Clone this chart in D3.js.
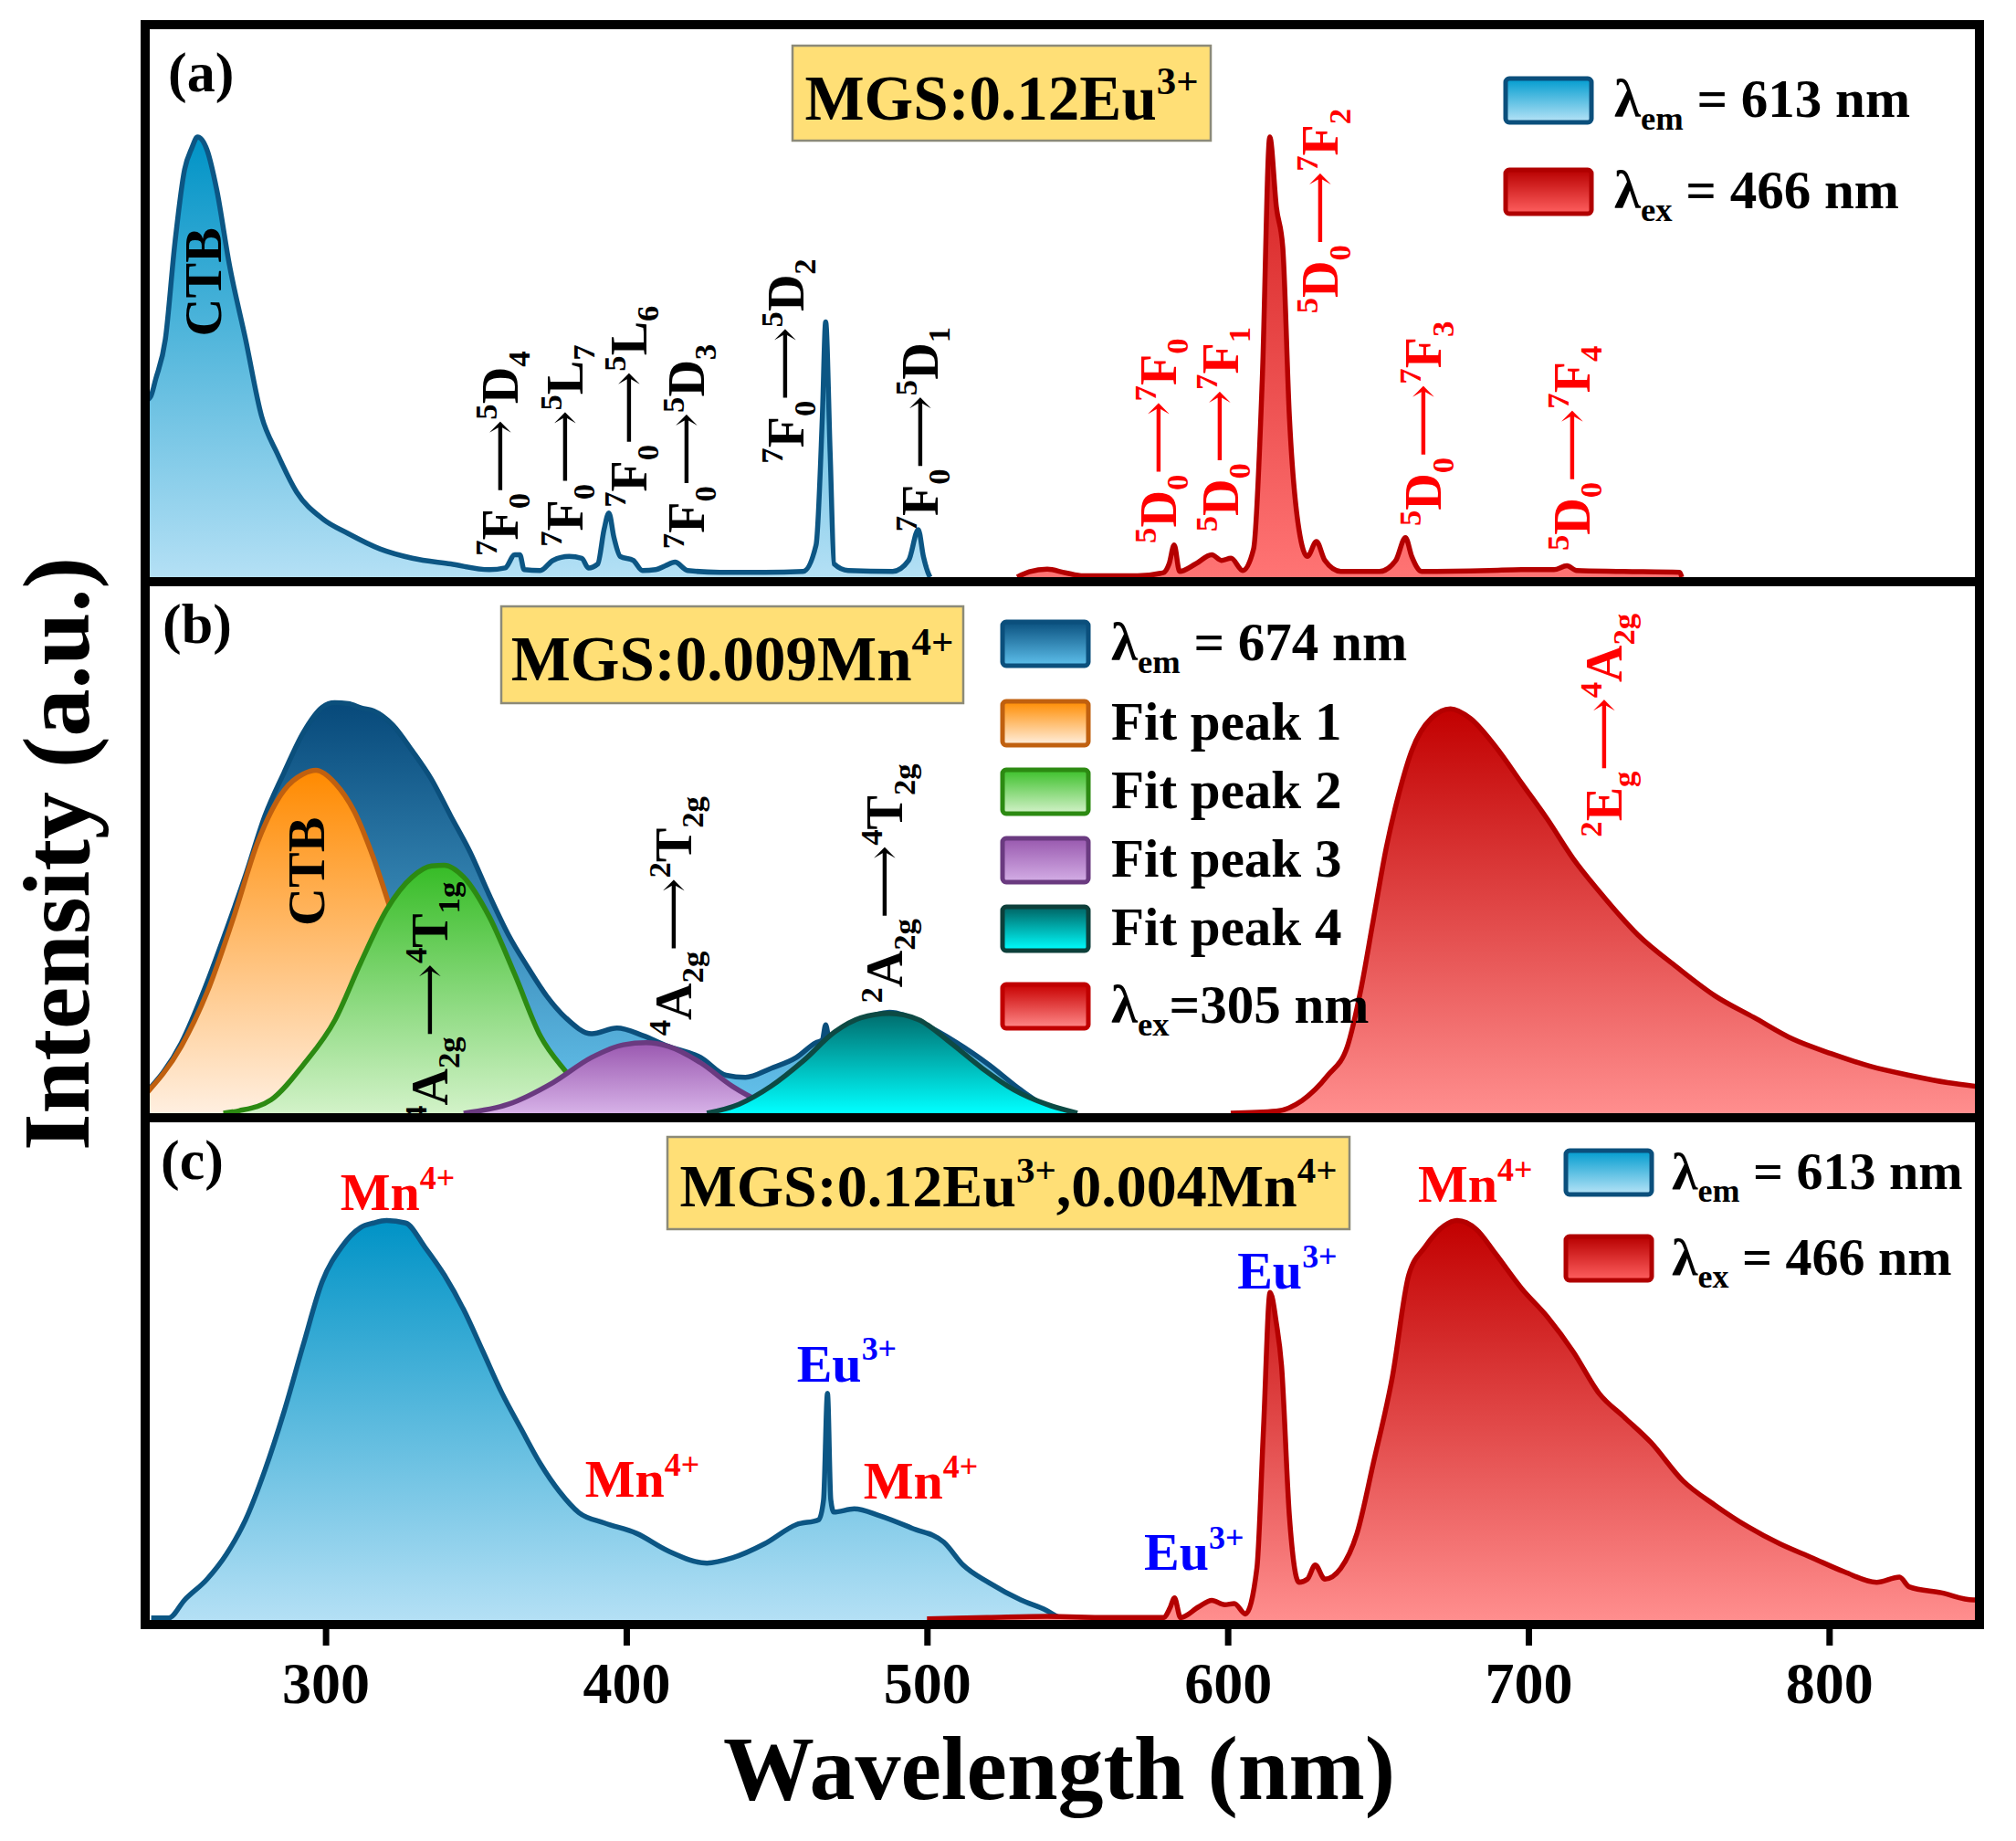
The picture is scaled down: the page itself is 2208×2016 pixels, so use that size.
<!DOCTYPE html>
<html>
<head>
<meta charset="utf-8">
<script src="https://cdn.jsdelivr.net/npm/d3@7"></script>
<style>
  body { margin: 0; background: #fff; }
  text { font-family: "Liberation Serif", "Times New Roman", serif; font-weight: bold; white-space: pre; }
</style>
</head>
<body>
<div id="chart"></div>
<script>
// ---- data (wavelength nm, intensity normalised to ~100) ----

// (a) MGS:0.12Eu3+
const aExcitation = [[240,40],[241.8,41],[243.5,45],[246.7,54],[249.9,76],[253.1,92.6],[255.5,97.5],[257.4,100],[260.6,97],[263.8,88],[268,71],[273.4,54],[278.7,36.6],[284,28],[290.4,19.3],[298.9,13.3],[307.5,9.9],[318.1,6.4],[328.8,4.3],[341.6,3],[354.4,1.7],[359.7,2.1],[362.9,5.1],[364.6,5.1],[366,1.7],[371.4,1.5],[375.6,3.8],[381,4.7],[385.2,4.3],[387.4,2.1],[390.5,3],[392.6,10.8],[394.2,14.6],[395.9,9],[398,4.7],[402.3,3.8],[405.4,1.5],[409.8,1.7],[413,2.6],[416.2,3.4],[420.4,1.5],[431.1,1.1],[446.1,1.1],[458.8,1.3],[463.1,7.3],[465.2,36.6],[466.3,58],[467.8,28],[469.1,3],[473.8,1.5],[488.6,1.3],[493.9,3.8],[497.1,10.8],[498.8,4.7],[500.3,1.1],[501,0]];
const aEmission = [[530,0],[534,1.2],[540,1.8],[546,1],[552,0.3],[570,0.3],[578.6,1],[580.5,3],[582.2,7.3],[584,1.3],[589.3,3],[594.7,5.1],[597.9,3.8],[601.1,4.3],[605,1.5],[608.6,6.4],[611.5,45],[614,100],[616.2,84],[618.3,75],[620.5,36.6],[623.7,10.8],[626.5,4.7],[629.5,8.1],[632.3,3.8],[637.6,1.3],[650.5,1.3],[655.9,3.8],[659.1,9],[661.2,4.7],[664.5,1.3],[687,1.5],[697.8,1.7],[708.5,1.7],[712.8,2.6],[716,1.5],[730,1.3],[750.3,1.1],[751,0]];

// (b) MGS:0.009Mn4+
const bExcitation = [[240,4.8],[252,17.2],[260,31],[267,45],[273.4,58.5],[279.8,73],[286.2,83.7],[292.6,93.5],[298.9,99.7],[303,100.8],[307.5,100.6],[312,99.5],[316,98.8],[322.4,95.3],[328.8,89],[335.2,82],[341.6,73],[348,64.2],[354.4,53.6],[360.8,43.8],[367.2,35.9],[373.5,28.8],[379.9,23.4],[388.5,19.5],[396.9,20.9],[405.4,19.1],[414,16.4],[424.7,13.7],[433.2,9.3],[439.6,8.8],[448.1,11],[456.6,13.7],[463,17.3],[465.2,18],[466.3,21.7],[467.7,17.3],[477.9,22.6],[487.5,24.8],[499.3,21.7],[509.9,17.3],[520.6,11.9],[531.2,5.7],[541.8,0.8],[545,0]];
const bFit1 = [[240,4.5],[252,16.4],[260.6,29.7],[269.1,47.4],[277.6,66.9],[286.2,79.3],[292.6,83.3],[296.8,84.2],[303.2,81],[309.6,74],[316,62.5],[322.4,48.3],[331,29.7],[339.5,14.6],[350.1,4.8],[360.8,0.5],[368,0]];
const bFit2 = [[266,0],[271.2,0.6],[281.9,3.3],[292.6,11.9],[303.2,23],[311.7,37],[320.3,50],[328.8,58],[335.2,60.7],[339.5,60.9],[345.9,58],[354.4,48.3],[362.9,34.1],[371.4,19],[379.9,10.2],[388.5,3.1],[396.9,0.5],[402,0]];
const bFit3 = [[345.9,0],[360.8,2.2],[375.6,7.5],[388.5,13.7],[399,16.8],[406.6,17.3],[414,16.4],[424.7,12.4],[435.3,6.6],[443.9,3.1],[454.5,0.5],[460,0]];
const bFit4 = [[426.8,0],[437.5,2.2],[448.1,6.6],[458.8,12.8],[469.4,20],[477.9,23.4],[487.5,24.5],[497.1,23],[507.8,17.3],[518.4,11],[529,5.7],[539.7,2.2],[550,0]];
const bEmission = [[601,0],[616.2,0.5],[624.7,3.1],[633.3,9.3],[639.8,16.4],[644.1,29.7],[648.4,47.4],[652.7,65.1],[656.9,78.4],[661.2,89],[667.7,97],[674.1,99.3],[680.6,97],[689.1,90],[697.8,81],[706.3,72.2],[714.9,62.5],[723.5,54.5],[736.4,43.8],[749.3,35.9],[762.1,28.8],[775,23.5],[787.9,18.2],[800.8,14.6],[813.7,11.5],[826.6,9.3],[839.4,7.5],[850,6.5]];

// (c) MGS:0.12Eu3+,0.004Mn4+
const cExcitation = [[242,0.5],[247.8,0.5],[253.1,5],[260.6,10.2],[267,16.4],[273.4,25],[279.8,37.3],[286.2,52],[292.6,68.7],[298.9,84.4],[305.3,93],[311.7,97.9],[316,99],[320.3,99.6],[326.6,99],[333,93],[339.5,86],[345.9,77.4],[352.3,67],[358.7,56.5],[365,47.7],[371.4,39],[377.8,32],[384.2,26.8],[392.7,24.2],[403.4,21.6],[414,17.2],[426.8,14.2],[435.3,15.5],[446,19],[456.6,23.8],[464,25],[465.6,30],[466.9,56.5],[468,30],[469,26.9],[475.8,27.7],[484.3,26],[495,22.9],[505.6,19.4],[512,13.7],[520.6,9.3],[531.2,5],[539.7,2.4],[544,0.6],[546,0]];
const cEmission = [[500,0.3],[520,0.6],[540,0.9],[560,0.6],[578.6,0.6],[580.8,3],[582.3,5.5],[584.3,0.6],[590.4,3.3],[594.7,4.9],[599,3.8],[602.2,4.1],[605.9,1.5],[609.7,12.9],[611.9,47.7],[614.1,81.7],[616.2,73.9],[617.9,63.4],[620.5,26],[623.7,9.4],[626.5,10.2],[629.1,13.7],[632.3,10.2],[637.6,12.9],[643,21.6],[648.4,39],[654.8,60.8],[660.2,86],[665.6,93],[672,98.3],[676.3,99.6],[682.7,97.4],[689.1,91.3],[697.8,82.6],[706.3,75.6],[714.9,66.9],[723.5,56.5],[732.1,50.4],[740.7,44.3],[751.4,34.7],[762.1,28.6],[772.9,23.3],[783.6,19],[794.4,15.5],[805.1,12],[815.8,9.4],[823.4,10.7],[826.6,8.3],[837.3,6.8],[848,5],[850,5]];

// axis ticks
const xTicks = [300, 400, 500, 600, 700, 800];

// text: {..} superscript, [..] subscript
const panelNames = ["(a)", "(b)", "(c)"];
const titles = ["MGS:0.12Eu{3+}", "MGS:0.009Mn{4+}", "MGS:0.12Eu{3+},0.004Mn{4+}"];
const legendA = ["λ[em] = 613 nm", "λ[ex] = 466 nm"];
const legendB = ["λ[em] = 674 nm", "Fit peak 1", "Fit peak 2", "Fit peak 3", "Fit peak 4", "λ[ex]=305 nm"];
const legendC = ["λ[em] = 613 nm", "λ[ex] = 466 nm"];

const aLabels = ["CTB", "{7}F[0]⟶{5}D[4]", "{7}F[0]⟶{5}L[7]", "{7}F[0]⟶{5}L[6]", "{7}F[0]⟶{5}D[3]", "{7}F[0]⟶{5}D[2]", "{7}F[0]⟶{5}D[1]",
                 "{5}D[0]⟶{7}F[0]", "{5}D[0]⟶{7}F[1]", "{5}D[0]⟶{7}F[2]", "{5}D[0]⟶{7}F[3]", "{5}D[0]⟶{7}F[4]"];
const aLabelAt = [[265.1,54.7],[363.8,4.8],[385.4,6.9],[406.6,15.8],[425.8,6.4],[458.8,25.8],[503.5,10.3],[582.8,7.7],[603.3,10.3],[636.6,59.9],[670.9,11.6],[720.3,6]];
const bLabels = ["CTB", "{4}A[2g]⟶{4}T[1g]", "{4}A[2g]⟶{2}T[2g]", "{2}A[2g]⟶{4}T[2g]", "{2}E[g]⟶{4}A[2g]"];
const bLabelAt = [[299.5,46],[340.4,-2],[421.5,19],[491.8,27],[731,67.8]];
const cLabels = ["Mn{4+}", "Mn{4+}", "Eu{3+}", "Mn{4+}", "Mn{4+}", "Eu{3+}", "Eu{3+}"];
const cLabelAt = [[304.9,102.3],[386.3,30.8],[456.7,59.5],[478.9,30.3],[663.3,104.3],[603.2,82.7],[572.2,12.5]];

// ---- drawing ----
const W = 2208, H = 2016;
const left = 159, right = 2168;
const svg = d3.select('#chart').append('svg')
    .attr('width', W).attr('height', H);
const defs = svg.append('defs');

const x = d3.scaleLinear().domain([240, 850]).range([left, right]);

const panels = [
    {top: 32, bottom: 632, ymax: 124.5},
    {top: 642, bottom: 1219, ymax: 129.4},
    {top: 1229, bottom: 1774, ymax: 124.1}
];
panels.forEach((p, i) => {
    p.y = d3.scaleLinear().domain([0, p.ymax]).range([p.bottom, p.top]);
    defs.append('clipPath').attr('id', 'clip' + i)
        .append('rect').attr('x', left + 5).attr('y', p.top)
        .attr('width', right - left - 10).attr('height', p.bottom - p.top);
});

function gradient(id, top, bottom) {
    const g = defs.append('linearGradient').attr('id', id)
        .attr('x1', 0).attr('y1', 0).attr('x2', 0).attr('y2', 1);
    g.append('stop').attr('offset', '0%').attr('stop-color', top);
    g.append('stop').attr('offset', '100%').attr('stop-color', bottom);
}
gradient('gBlue', '#0093c6', '#b4e0f5');
gradient('gBlueDark', '#07497a', '#66c4ee');
gradient('gRed', '#c20000', '#ff8e8e');
gradient('gRedA', '#d41f1f', '#ff7474');
gradient('gOrange', '#ff8a00', '#ffefe0');
gradient('gGreen', '#36bc26', '#d2f2c8');
gradient('gPurple', '#9a58b0', '#d6b1e7');
gradient('gTeal', '#006d6d', '#00ffff');
gradient('sBlue', '#009ccf', '#b8e4f7');
gradient('sBlueDark', '#0a507e', '#5ec0ec');
gradient('sRed', '#b80000', '#ff6060');
gradient('sOrange', '#ff8c00', '#fff0e0');
gradient('sGreen', '#3cc02a', '#d4f2ca');
gradient('sPurple', '#9858ae', '#d4aee6');
gradient('sTeal', '#006262', '#00ffff');
gradient('sRedB', '#c80000', '#ff8a8a');

function rich(sel, str, size) {
    const re = /\{([^}]*)\}|\[([^\]]*)\]|(⟶)|([^{\[⟶]+)/g;
    let m, shift = 0;
    while ((m = re.exec(str))) {
        let txt, target, fs, weight = null;
        if (m[1] !== undefined) { txt = m[1]; target = -0.4 * size; fs = 0.62 * size; }
        else if (m[2] !== undefined) { txt = m[2]; target = 0.24 * size; fs = 0.62 * size; }
        else if (m[3] !== undefined) { txt = m[3]; target = -0.02 * size; fs = size; weight = 'normal'; }
        else { txt = m[4]; target = 0; fs = size; }
        const ts = sel.append('tspan').attr('dy', target - shift).attr('font-size', fs).text(txt);
        if (weight) ts.style('font-weight', weight).style('font-family', '"DejaVu Serif", serif');
        shift = target;
    }
    return sel;
}

function drawArea(g, data, p, fill, stroke) {
    const area = d3.area()
        .x(d => x(d[0])).y0(p.y(0)).y1(d => p.y(d[1]))
        .curve(d3.curveMonotoneX);
    const line = d3.line()
        .x(d => x(d[0])).y(d => p.y(d[1]))
        .curve(d3.curveMonotoneX);
    g.append('path').datum(data).attr('d', area).attr('fill', 'url(#' + fill + ')');
    g.append('path').datum(data).attr('d', line)
        .attr('fill', 'none').attr('stroke', stroke).attr('stroke-width', 5.5)
        .attr('stroke-linejoin', 'round');
}

const gA = svg.append('g').attr('clip-path', 'url(#clip0)');
const gB = svg.append('g').attr('clip-path', 'url(#clip1)');
const gC = svg.append('g').attr('clip-path', 'url(#clip2)');

drawArea(gA, aExcitation, panels[0], 'gBlue', '#0c5684');
drawArea(gA, aEmission, panels[0], 'gRedA', '#b40000');

drawArea(gB, bExcitation, panels[1], 'gBlueDark', '#0b4f7c');
drawArea(gB, bFit1, panels[1], 'gOrange', '#c0600f');
drawArea(gB, bFit2, panels[1], 'gGreen', '#2c8a12');
drawArea(gB, bFit3, panels[1], 'gPurple', '#6a3a80');
drawArea(gB, bFit4, panels[1], 'gTeal', '#0d4a44');
drawArea(gB, bEmission, panels[1], 'gRed', '#b40000');

drawArea(gC, cExcitation, panels[2], 'gBlue', '#0c5684');
drawArea(gC, cEmission, panels[2], 'gRed', '#b40000');

// rotated transition labels
function rotLabels(g, labels, at, p, colorFn, size) {
    labels.forEach((t, i) => {
        const tx = g.append('text')
            .attr('transform', `translate(${x(at[i][0])},${p.y(at[i][1])}) rotate(-90)`)
            .attr('fill', colorFn(i))
            .attr('font-size', size);
        rich(tx, t, t === 'CTB' ? 58 : size);
    });
}
rotLabels(gA, aLabels, aLabelAt, panels[0], i => i < 7 ? '#000' : '#ff0000', 56);
rotLabels(gB, bLabels, bLabelAt, panels[1], i => i < 4 ? '#000' : '#ff0000', 56);

cLabels.forEach((t, i) => {
    const tx = gC.append('text')
        .attr('x', x(cLabelAt[i][0])).attr('y', panels[2].y(cLabelAt[i][1]))
        .attr('fill', t.startsWith('Mn') ? '#ff0000' : '#0000ff')
        .attr('font-size', 58);
    rich(tx, t, 58);
});

// panel letters
[[184, 100], [178, 704], [176, 1291]].forEach((pos, i) => {
    svg.append('text').attr('x', pos[0]).attr('y', pos[1])
        .attr('font-size', 62).text(panelNames[i]);
});

// title boxes
const boxes = [
    {x: 868, y: 50, w: 458, h: 104, base: 131},
    {x: 549, y: 664, w: 506, h: 106, base: 745},
    {x: 731, y: 1245, w: 747, h: 101, base: 1321}
];
boxes.forEach((b, i) => {
    svg.append('rect').attr('x', b.x).attr('y', b.y).attr('width', b.w).attr('height', b.h)
        .attr('fill', '#ffdf76').attr('stroke', '#8c8a78').attr('stroke-width', 2.5);
    const tx = svg.append('text').attr('x', b.x + b.w / 2).attr('y', b.base)
        .attr('text-anchor', 'middle').attr('font-size', i === 2 ? 66 : 69);
    rich(tx, titles[i], i === 2 ? 66 : 69);
});

// legends
function legend(items, fills, strokes, sx, tx, bases, size) {
    items.forEach((t, i) => {
        svg.append('rect').attr('x', sx).attr('y', bases[i] - 42)
            .attr('width', 94).attr('height', 48).attr('rx', 4)
            .attr('fill', 'url(#' + fills[i] + ')')
            .attr('stroke', strokes[i]).attr('stroke-width', 5);
        const el = svg.append('text').attr('x', tx).attr('y', bases[i]).attr('font-size', size);
        rich(el, t, size);
    });
}
legend(legendA, ['sBlue', 'sRed'], ['#0b4f7c', '#b00000'], 1649, 1768, [128, 228], 59);
legend(legendB, ['sBlueDark', 'sOrange', 'sGreen', 'sPurple', 'sTeal', 'sRedB'],
       ['#0b4f7c', '#c0600f', '#2c8a12', '#6a3a80', '#0d3f3a', '#c00000'],
       1098, 1217, [723, 810, 885, 960, 1035, 1120], 59);
legend(legendC, ['sBlue', 'sRed'], ['#0b4f7c', '#b00000'], 1715, 1831, [1302, 1396], 58);

// frame and panel dividers
svg.append('rect').attr('x', left).attr('y', 27)
    .attr('width', right - left).attr('height', 1779 - 27)
    .attr('fill', 'none').attr('stroke', '#000').attr('stroke-width', 10);
[637, 1224].forEach(yy => {
    svg.append('line').attr('x1', left).attr('x2', right).attr('y1', yy).attr('y2', yy)
        .attr('stroke', '#000').attr('stroke-width', 10);
});

// x axis
const xAxis = d3.axisBottom(x).tickValues(xTicks).tickSize(18).tickPadding(18);
const ax = svg.append('g').attr('transform', 'translate(0,1784)').call(xAxis);
ax.select('.domain').remove();
ax.selectAll('.tick line').attr('stroke', '#000').attr('stroke-width', 7);
ax.selectAll('.tick text')
    .attr('fill', '#000')
    .style('font-family', '"Liberation Serif", "Times New Roman", serif')
    .style('font-weight', 'bold')
    .style('font-size', '64px');

// axis titles
svg.append('text').attr('x', 1160).attr('y', 1970)
    .attr('text-anchor', 'middle').attr('font-size', 100).text('Wavelength (nm)');
svg.append('text').attr('transform', 'translate(97,935) rotate(-90)')
    .attr('text-anchor', 'middle').attr('font-size', 104).text('Intensity (a.u.)');
</script>
</body>
</html>
